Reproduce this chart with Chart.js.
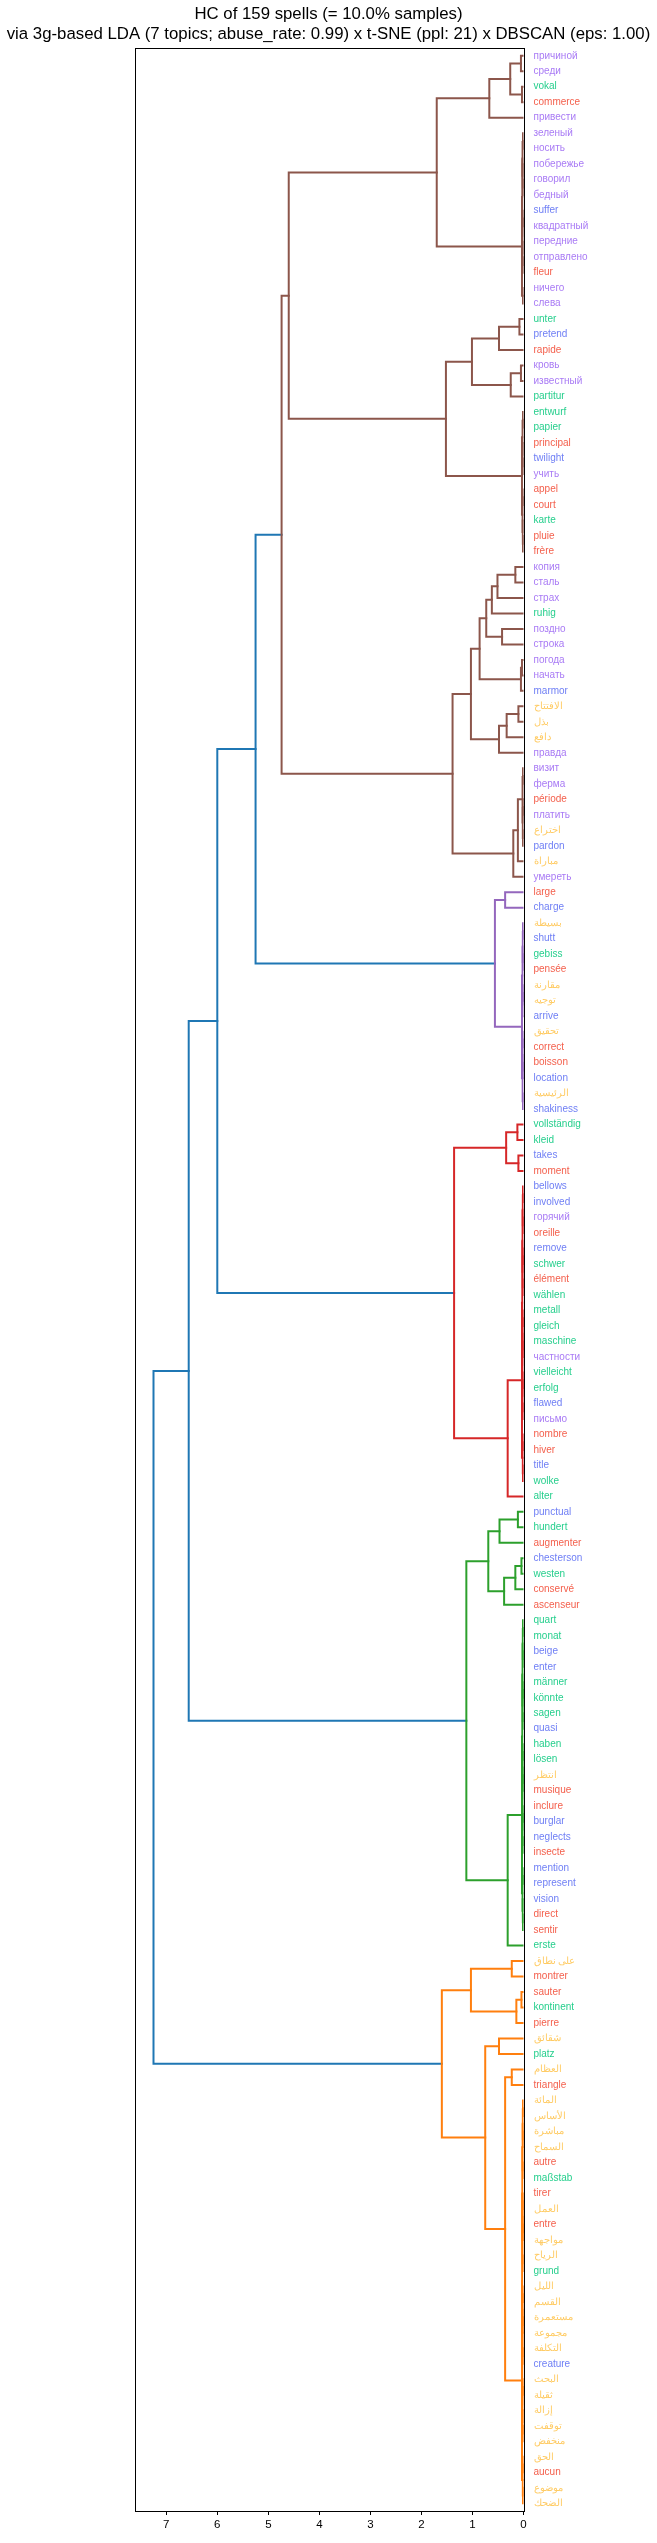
<!DOCTYPE html>
<html><head><meta charset="utf-8">
<script src="https://cdn.jsdelivr.net/npm/chart.js@4"></script>
<style>html,body{margin:0;padding:0;background:#fff}canvas{display:block}</style>
</head><body>
<canvas id="c" width="657" height="2543"></canvas>
<script>
const titleLines = ['HC of 159 spells (= 10.0% samples)',
  'via 3g-based LDA (7 topics; abuse_rate: 0.99) x t-SNE (ppl: 21) x DBSCAN (eps: 1.00)'];
const xTicks = [0, 1, 2, 3, 4, 5, 6, 7];

// leaves, top to bottom
const labels = ['причиной','среди','vokal','commerce','привести','зеленый','носить','побережье','говорил','бедный',
 'suffer','квадратный','передние','отправлено','fleur','ничего','слева','unter','pretend','rapide',
 'кровь','известный','partitur','entwurf','papier','principal','twilight','учить','appel','court',
 'karte','pluie','frère','копия','сталь','страх','ruhig','поздно','строка','погода',
 'начать','marmor','الافتتاح','بذل','دافع','правда','визит','ферма','période','платить',
 'اختراع','pardon','مباراة','умереть','large','charge','بسيطة','shutt','gebiss','pensée',
 'مقارنة','توجيه','arrive','تحقيق','correct','boisson','location','الرئيسية','shakiness','vollständig',
 'kleid','takes','moment','bellows','involved','горячий','oreille','remove','schwer','élément',
 'wählen','metall','gleich','maschine','частности','vielleicht','erfolg','flawed','письмо','nombre',
 'hiver','title','wolke','alter','punctual','hundert','augmenter','chesterson','westen','conservé',
 'ascenseur','quart','monat','beige','enter','männer','könnte','sagen','quasi','haben',
 'lösen','انتظر','musique','inclure','burglar','neglects','insecte','mention','represent','vision',
 'direct','sentir','erste','على نطاق','montrer','sauter','kontinent','pierre','شقائق','platz',
 'العظام','triangle','المائة','الأساس','مباشرة','السماح','autre','maßstab','tirer','العمل',
 'entre','مواجهة','الرياح','grund','الليل','القسم','مستعمرة','مجموعة','التكلفة','creature',
 'البحث','ثقيلة','إزالة','توقفت','منخفض','الحق','aucun','موضوع','الضحك'];

const labelLang = ['ru','ru','de','fr','ru','ru','ru','ru','ru','ru',
 'en','ru','ru','ru','fr','ru','ru','de','en','fr',
 'ru','ru','de','de','de','fr','en','ru','fr','fr',
 'de','fr','fr','ru','ru','ru','de','ru','ru','ru',
 'ru','en','ar','ar','ar','ru','ru','ru','fr','ru',
 'ar','en','ar','ru','fr','en','ar','en','de','fr',
 'ar','ar','en','ar','fr','fr','en','ar','en','de',
 'de','en','fr','en','en','ru','fr','en','de','fr',
 'de','de','de','de','ru','de','de','en','ru','fr',
 'fr','en','de','de','en','de','fr','en','de','fr',
 'fr','de','de','en','en','de','de','de','en','de',
 'de','ar','fr','fr','en','en','fr','en','en','en',
 'fr','fr','de','ar','fr','fr','de','fr','ar','de',
 'ar','fr','ar','ar','ar','ar','fr','de','fr','ar',
 'fr','ar','ar','de','ar','ar','ar','ar','ar','en',
 'ar','ar','ar','ar','ar','ar','fr','ar','ar'];

// linkage: [id, left, right, height]; numbers = leaf index (top = 0)
const merges = [
 ['b1',0,1,0.05],['b2',2,3,0.03],['b3','b1','b2',0.26],['b4','b3',4,0.67],
 ['f1a',5,6,0.01],['f1b',8,9,0.01],['f1c',7,'f1b',0.015],['f1d','f1a','f1c',0.02],
 ['f1e',10,11,0.01],['f1f',13,14,0.01],['f1g',12,'f1f',0.015],['f1h','f1e','f1g',0.02],
 ['f1i','f1d','f1h',0.025],['f1j',15,16,0.01],['f1','f1i','f1j',0.03],
 ['b5','b4','f1',1.70],
 ['c1',17,18,0.08],['c2','c1',19,0.48],['c3',20,21,0.05],['c4','c3',22,0.25],['c5','c2','c4',1.01],
 ['f2a',23,24,0.01],['f2b',26,27,0.01],['f2c',25,'f2b',0.015],['f2d','f2a','f2c',0.02],
 ['f2e',28,29,0.01],['f2f',31,32,0.01],['f2g',30,'f2f',0.015],['f2h','f2e','f2g',0.02],['f2','f2d','f2h',0.03],
 ['c6','c5','f2',1.52],['B1','b5','c6',4.60],
 ['d1',33,34,0.16],['d2','d1',35,0.51],['d3','d2',36,0.62],['d4',37,38,0.42],['d5','d3','d4',0.73],
 ['d6',39,40,0.03],['d7','d6',41,0.05],['d8','d5','d7',0.86],
 ['e1',42,43,0.10],['e2','e1',44,0.33],['e3','e2',45,0.48],['d9','d8','e3',1.03],
 ['g1',46,47,0.01],['g2',48,49,0.01],['g3',50,51,0.01],['g4','g2','g3',0.015],['g5','g1','g4',0.02],
 ['g6','g5',52,0.11],['g7','g6',53,0.20],['d10','d9','g7',1.39],['B2','B1','d10',4.74],
 ['p1',54,55,0.36],
 ['h1',56,57,0.01],['h2',58,59,0.01],['h3','h1','h2',0.015],['h4',60,61,0.01],['h5','h4',62,0.015],
 ['h6','h3','h5',0.02],['h7',63,64,0.01],['h8',65,66,0.01],['h9','h7','h8',0.015],['h10',67,68,0.01],
 ['h11','h9','h10',0.02],['h12','h6','h11',0.03],
 ['p2','p1','h12',0.56],['T1','B2','p2',5.25],
 ['r1',69,70,0.12],['r2',71,72,0.10],['r3','r1','r2',0.34],
 ['i1',73,74,0.01],['i2',75,76,0.01],['i3','i1','i2',0.015],['i4',77,78,0.01],['i5',79,80,0.01],
 ['i6','i4','i5',0.015],['i7','i3','i6',0.02],['i8',81,82,0.01],['i9',83,84,0.01],['i10','i8','i9',0.015],
 ['i11',85,86,0.01],['i12',87,88,0.01],['i13','i11','i12',0.015],['i14','i10','i13',0.02],
 ['i15','i7','i14',0.025],['i16',89,90,0.01],['i17',91,92,0.01],['i18','i16','i17',0.015],['i19','i15','i18',0.03],
 ['r4','i19',93,0.31],['r5','r3','r4',1.36],['T2','T1','r5',6.00],
 ['s1',94,95,0.11],['s2','s1',96,0.47],['s3',97,98,0.04],['s4','s3',99,0.16],['s5','s4',100,0.38],['s6','s2','s5',0.69],
 ['j1',101,102,0.01],['j2',103,104,0.01],['j3','j1','j2',0.015],['j4',105,106,0.01],['j5',107,108,0.01],
 ['j6','j4','j5',0.015],['j7','j3','j6',0.02],['j8',109,110,0.01],['j9',111,112,0.01],['j10','j8','j9',0.015],
 ['j11',113,114,0.01],['j12',115,116,0.01],['j13','j11','j12',0.015],['j14','j10','j13',0.02],
 ['j15','j7','j14',0.025],['j16',117,118,0.01],['j17',120,121,0.01],['j18',119,'j17',0.015],
 ['j19','j16','j18',0.02],['j20','j15','j19',0.03],
 ['s7','j20',122,0.31],['s8','s6','s7',1.12],['T3','T2','s8',6.56],
 ['o1',123,124,0.23],['o2',125,126,0.04],['o3','o2',127,0.14],['o4','o1','o3',1.03],
 ['o5',128,129,0.48],['o6',130,131,0.23],
 ['k1',132,133,0.01],['k2',134,135,0.01],['k3','k1','k2',0.015],['k4',136,137,0.01],['k5','k3','k4',0.02],
 ['k6',138,139,0.01],['k7',140,141,0.01],['k8','k6','k7',0.015],['k9',142,143,0.01],['k10','k8','k9',0.02],
 ['k11','k5','k10',0.025],['k12',144,145,0.01],['k13',146,147,0.01],['k14','k12','k13',0.015],
 ['k15',148,149,0.01],['k16','k14','k15',0.02],['k17',150,151,0.01],['k18',153,154,0.01],
 ['k19',152,'k18',0.015],['k20','k17','k19',0.02],['k21','k16','k20',0.025],['k22','k11','k21',0.028],
 ['k23',155,156,0.01],['k24',157,158,0.01],['k25','k23','k24',0.015],['k26','k22','k25',0.03],
 ['o7','o6','k26',0.36],['o8','o5','o7',0.75],['o9','o4','o8',1.60],['T4','T3','o9',7.25]
];

const langColor = {ru:'#a97bf5', en:'#6f7ff5', de:'#26cf8d', fr:'#f4604d', ar:'#ffcc66'};
const clusterPalette = ['#ff7f0e','#2ca02c','#d62728','#9467bd','#8c564b'];
const aboveColor = '#1f77b4';
const FONT = "'Liberation Sans', Arial, sans-serif";

// build tree geometry (scipy-style): leaf i at 10*i+5, node at midpoint of children
const nodes = {};
const ref = r => typeof r === 'number' ? {pos: 10*r+5, h: 0, leaf: true} : nodes[r];
merges.forEach(([id, a, b, h]) => {
  const A = ref(a), B = ref(b);
  nodes[id] = {id, a, b, h, A, B, pos: (A.pos + B.pos) / 2};
});
const maxH = Math.max(...merges.map(m => m[3]));
const thr = 0.7 * maxH;
const rootId = merges[merges.length - 1][0];
const colorOf = {};
const clusterRoots = [];
(function collect(id) {
  const n = nodes[id];
  if (n.h < thr) { clusterRoots.push(id); return; }
  colorOf[id] = aboveColor;
  [n.a, n.b].forEach(c => { if (typeof c === 'string') collect(c); });
})(rootId);
clusterRoots.sort((p, q) => nodes[q].pos - nodes[p].pos);
function paint(id, col) {
  colorOf[id] = col;
  const n = nodes[id];
  [n.a, n.b].forEach(c => { if (typeof c === 'string') paint(c, col); });
}
clusterRoots.forEach((id, k) => paint(id, clusterPalette[k % clusterPalette.length]));

const datasets = merges.map(([id]) => {
  const n = nodes[id];
  return {
    xAxisID: 'x', yAxisID: 'y',
    data: [{x: n.A.h, y: n.A.pos}, {x: n.h, y: n.A.pos}, {x: n.h, y: n.B.pos}, {x: n.B.h, y: n.B.pos}],
    showLine: true, borderColor: colorOf[id], borderWidth: 2, pointRadius: 0, pointHoverRadius: 0,
    fill: false, tension: 0, borderCapStyle: 'square', borderJoinStyle: 'miter'
  };
});

const spines = {
  id: 'spines',
  afterDraw(chart) {
    const {ctx, chartArea: {left, top, right, bottom}} = chart;
    ctx.save();
    ctx.strokeStyle = '#000'; ctx.lineWidth = 1;
    ctx.strokeRect(Math.round(left) + 0.5, Math.round(top) + 0.5, Math.round(right) - Math.round(left), Math.round(bottom) - Math.round(top));
    ctx.restore();
  }
};

new Chart(document.getElementById('c'), {
  type: 'scatter',
  data: {datasets},
  options: {
    responsive: false, animation: false, devicePixelRatio: 1, events: [],
    layout: {padding: 0},
    plugins: {
      legend: {display: false}, tooltip: {enabled: false},
      title: {display: true, text: titleLines, color: '#000',
        font: {family: FONT, size: 16.8, weight: 'normal', lineHeight: 1.2},
        padding: {top: 4, bottom: 3.7}}
    },
    scales: {
      x: {type: 'linear', position: 'bottom', reverse: true, min: 0, max: maxH * 1.05, bounds: 'data',
        afterBuildTicks: ax => { ax.ticks = xTicks.map(v => ({value: v})); },
        afterFit: s => { s.height = 32; },
        grid: {display: true, drawOnChartArea: false, drawTicks: true, tickLength: 4, color: '#000', lineWidth: 1},
        border: {display: false},
        ticks: {color: '#000', font: {family: FONT, size: 11.5}, padding: 3, maxRotation: 0, autoSkip: false,
          callback: v => String(v)}
      },
      y: {type: 'linear', position: 'right', reverse: true, min: 0, max: 10 * labels.length, bounds: 'data',
        afterBuildTicks: ax => { ax.ticks = labels.map((_, i) => ({value: 10 * i + 5})); },
        afterFit: s => { s.width = 133.5; },
        grid: {display: false, drawTicks: false},
        border: {display: false},
        ticks: {autoSkip: false, padding: 10, font: {family: FONT, size: 10},
          color: c => langColor[labelLang[c.index]],
          callback: (v, i) => labels[i]}
      },
      yLeft: {type: 'linear', position: 'left', display: true, min: 0, max: 10 * labels.length,
        afterFit: s => { s.width = 135; },
        ticks: {display: false}, grid: {display: false, drawTicks: false}, border: {display: false}
      }
    }
  },
  plugins: [spines]
});
</script>
</body></html>
